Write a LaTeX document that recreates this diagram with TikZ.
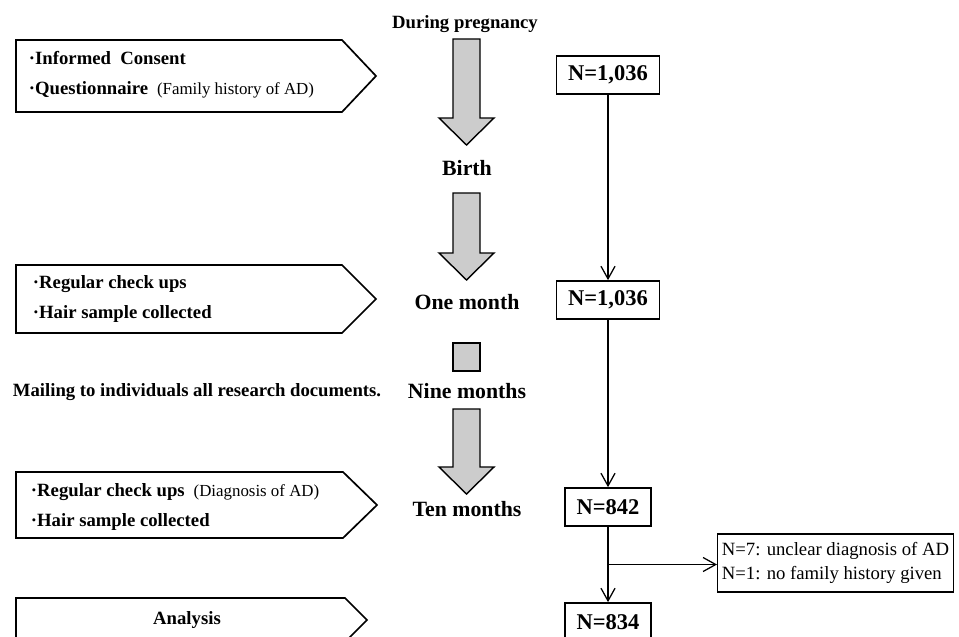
\documentclass[tikz,border=0pt]{standalone}
\usepackage{fontspec}
\setmainfont{Liberation Serif}
\usetikzlibrary{arrows.meta,calc}

\begin{document}
\begin{tikzpicture}[x=0.025cm, y=-0.025cm,
    stage/.style={line width=1.2pt, line join=miter},
    bigarrow/.style={draw, line width=1pt, fill=gray!40, line join=miter},
    timelab/.style={font=\bfseries\fontsize{15.5}{18}\selectfont},
    txt/.style={font=\bfseries\fontsize{13.3}{21}\selectfont},
    countbox/.style={draw, line width=1.2pt, minimum height=0.95cm, inner sep=2pt, font=\bfseries\fontsize{16}{19}\selectfont},
    flow/.style={line width=0.9pt, -{Straight Barb[length=9pt,width=10pt]}}]

    \useasboundingbox (0,0) rectangle (959,637);

    % Stage boxes (left column)
    \draw[stage] (16,40) -- (342,40) -- (376,76) -- (342,112) -- (16,112) -- cycle;
    \draw[stage] (16,265) -- (342,265) -- (376,299) -- (342,333) -- (16,333) -- cycle;
    \draw[stage] (16,472) -- (343,472) -- (377,505) -- (343,538) -- (16,538) -- cycle;
    \draw[stage] (16,598) -- (345,598) -- (367,620) -- (345,642) -- (16,642) -- cycle;

    % Texts in the stage boxes
    \node[txt, anchor=west, align=left] (consent) at (24,75)
        {·Informed~ Consent\\·Questionnaire {\mdseries\fontsize{12}{14}\selectfont~(Family history of AD)}};
    \node[txt, anchor=west, align=left] (check1) at (28,299)
        {·Regular check ups\\·Hair sample collected};
    \node[txt, anchor=west, align=left] (check2) at (26,507)
        {·Regular check ups {\mdseries\fontsize{12}{14}\selectfont~(Diagnosis of AD)}\\·Hair sample collected};
    \node[txt] (mail) at (197,392) {Mailing to individuals all research documents.};
    \node[txt] (analysis) at (187,620) {Analysis};

    % Time points
    \node[txt] (preg) at (465,24) {During pregnancy};
    \node[timelab] (birth) at (467,168) {Birth};
    \node[timelab] (month1) at (467,302) {One month};
    \node[timelab] (month9) at (467,391) {Nine months};
    \node[timelab] (month10) at (467,509) {Ten months};

    % Big grey arrows between time points
    \draw[bigarrow] (453,39) -- (480,39) -- (480,118) -- (494,118) -- (466.5,145) -- (439,118) -- (453,118) -- cycle;
    \draw[bigarrow] (453,193) -- (480,193) -- (480,253) -- (494,253) -- (466.5,280) -- (439,253) -- (453,253) -- cycle;
    \draw[bigarrow] (453,343) rectangle (480,371);
    \draw[bigarrow] (453,409) -- (480,409) -- (480,467) -- (494,467) -- (466.5,494) -- (439,467) -- (453,467) -- cycle;

    % Numbers of participants
    \node[countbox, minimum width=2.575cm] (n1) at (608,75) {N=1,036};
    \node[countbox, minimum width=2.575cm] (n2) at (608,300) {N=1,036};
    \node[countbox, minimum width=2.15cm] (n3) at (608,507) {N=842};
    \node[countbox, minimum width=2.15cm] (n4) at (608,622) {N=834};

    % Excluded
    \node[draw, line width=1pt, anchor=west, align=left, inner sep=3pt, minimum height=1.45cm,
          font=\fontsize{13.3}{17}\selectfont] (excl) at (717,563)
        {N=7: unclear diagnosis of AD\\N=1: no family history given};

    % Connectors
    \draw[flow] (n1) -- (n2);
    \draw[flow] (n2) -- (n3);
    \draw[flow] (n3) -- (n4);
    \coordinate (split) at ($(n3.south)!0.5!(n4.north)$);
    \draw[flow] (split) -- (excl.west |- split);

\end{tikzpicture}
\end{document}
